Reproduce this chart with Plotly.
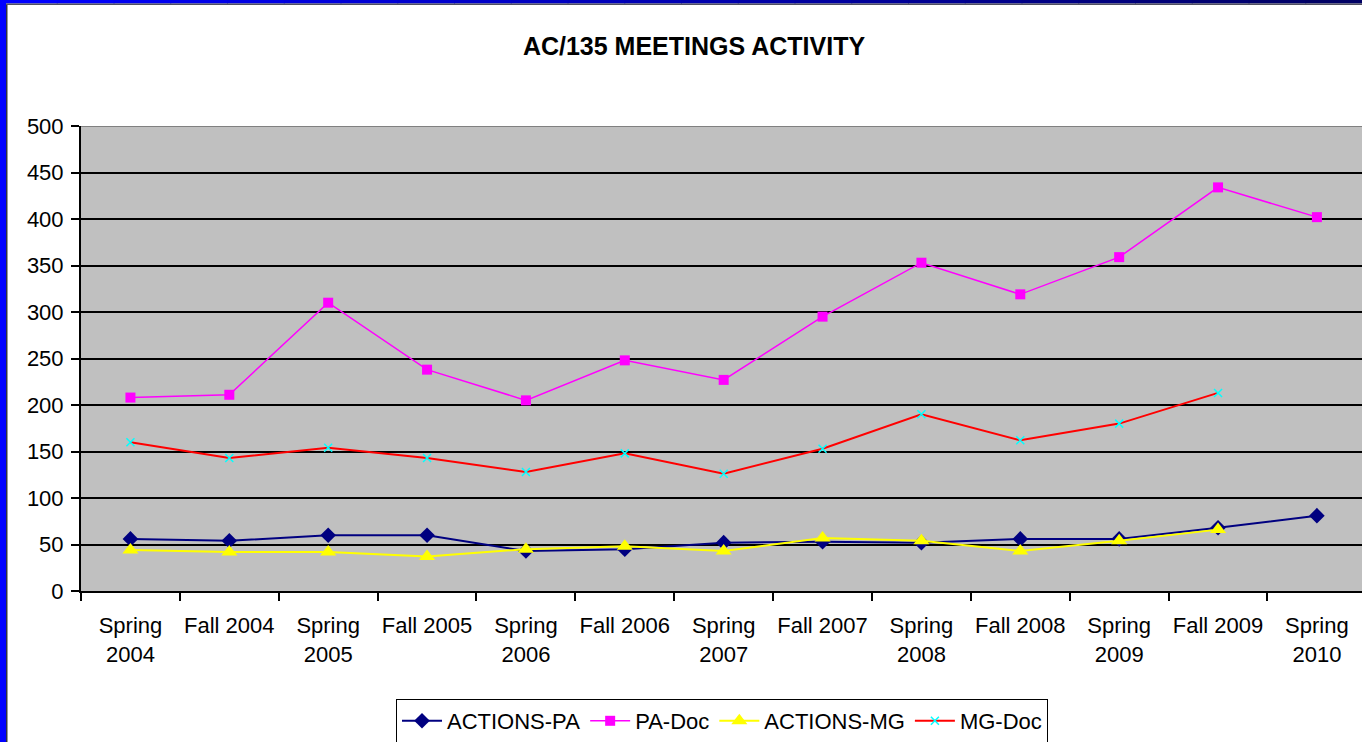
import plotly.graph_objects as go

categories = ["Spring<br>2004", "Fall 2004", "Spring<br>2005", "Fall 2005", "Spring<br>2006",
              "Fall 2006", "Spring<br>2007", "Fall 2007", "Spring<br>2008", "Fall 2008",
              "Spring<br>2009", "Fall 2009", "Spring<br>2010"]

actions_pa = [56, 54, 60, 60, 43, 45, 52, 53, 52, 56, 56, 68, 81]
pa_doc = [208, 211, 310, 238, 205, 248, 227, 295, 353, 319, 359, 434, 402]
actions_mg = [44, 42, 42, 37, 45, 48, 43, 57, 54, 43, 54, 66, None]
mg_doc = [160, 143, 154, 143, 128, 148, 126, 153, 190, 162, 180, 213, None]

W, H = 1362, 742
L, T, B = 81, 126, 151
PW, PH = W - L, H - T - B

def px(x):
    return (x - L) / PW

def py(y):
    return (H - B - y) / PH

fig = go.Figure()
fig.add_trace(go.Scatter(x=categories, y=actions_pa, name="ACTIONS-PA", mode="lines+markers",
                         line=dict(color="#000080", width=2),
                         marker=dict(symbol="diamond", size=12, color="#000080")))
fig.add_trace(go.Scatter(x=categories, y=pa_doc, name="PA-Doc", mode="lines+markers",
                         line=dict(color="#FF00FF", width=1.5),
                         marker=dict(symbol="square", size=10, color="#FF00FF")))
fig.add_trace(go.Scatter(x=categories, y=actions_mg, name="ACTIONS-MG", mode="lines+markers",
                         line=dict(color="#FFFF00", width=2),
                         marker=dict(symbol="triangle-up", size=14, color="#FFFF00")))
fig.add_trace(go.Scatter(x=categories, y=mg_doc, name="MG-Doc", mode="lines+markers",
                         line=dict(color="#FF0000", width=2),
                         marker=dict(symbol="x-thin", size=8, color="#00FFFF",
                                     line=dict(color="#00FFFF", width=1.5))))

font_family = "Liberation Sans, Arial, sans-serif"

fig.update_layout(
    width=W, height=H,
    margin=dict(l=L, r=0, t=T, b=B, autoexpand=False),
    paper_bgcolor="white",
    plot_bgcolor="#C0C0C0",
    font=dict(family=font_family, color="black", size=20),
    title=dict(text="<b>AC/135 MEETINGS ACTIVITY</b>", x=694 / W, xanchor="center",
               xref="container", y=1 - 46 / H, yanchor="middle", yref="container",
               font=dict(size=25, family=font_family, color="black")),
    xaxis=dict(type="category", range=[-0.5, 12.456], tickson="boundaries",
               ticks="outside", ticklen=8, tickcolor="black", tickwidth=1.5,
               showline=True, linecolor="black", linewidth=2,
               showgrid=False, tickangle=0, tickfont=dict(size=22),
               ticklabelstandoff=14, fixedrange=True),
    yaxis=dict(range=[0, 500], dtick=50, ticks="outside", ticklen=8,
               tickcolor="black", tickwidth=1.5,
               showline=True, linecolor="black", linewidth=2,
               showgrid=True, gridcolor="black", gridwidth=1.5,
               zeroline=False, tickfont=dict(size=22), ticklabelstandoff=3),
    legend=dict(orientation="h", x=px(722), xanchor="center", y=py(699), yanchor="top",
                bgcolor="white", bordercolor="black", borderwidth=1,
                font=dict(size=22), itemwidth=40, traceorder="normal"),
    showlegend=True,
)

shapes = []
shapes.append(dict(type="line", xref="paper", yref="y", x0=0, x1=1, y0=500, y1=500,
                   line=dict(color="#808080", width=2), layer="above"))
shapes.append(dict(type="rect", xref="paper", yref="paper", x0=px(0), x1=px(6),
                   y0=py(H), y1=py(0), fillcolor="#0000FF", line=dict(width=0)))
shapes.append(dict(type="rect", xref="paper", yref="paper", x0=px(6), x1=px(7.5),
                   y0=py(H), y1=py(4), fillcolor="#303040", line=dict(width=0)))
n = 24
for i in range(n):
    t = i / (n - 1)
    b = int(255 - t * (255 - 100))
    col = "rgb(0,0,%d)" % b
    x0 = i * W / n
    x1 = (i + 1) * W / n + 1
    shapes.append(dict(type="rect", xref="paper", yref="paper", x0=px(x0), x1=px(x1),
                       y0=py(3.5), y1=py(0), fillcolor=col, line=dict(width=0)))
shapes.append(dict(type="rect", xref="paper", yref="paper", x0=px(6), x1=px(W),
                   y0=py(5), y1=py(3.5), fillcolor="#505060", line=dict(width=0)))
fig.update_layout(shapes=shapes)

fig.write_html("out.html", config={"displayModeBar": False},
               post_script="document.body.style.margin='0';document.body.style.overflow='hidden';")
